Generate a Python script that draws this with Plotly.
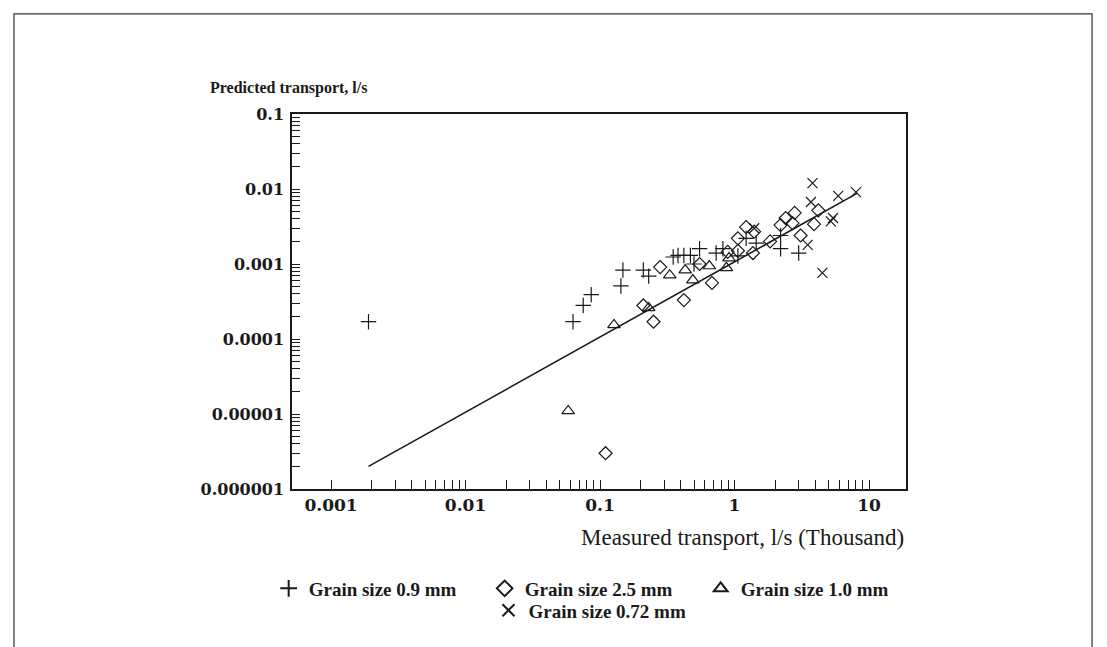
import plotly.graph_objects as go

# ---- data (measured transport in thousand l/s, predicted transport l/s) ----
g09_x = [0.0019, 0.063, 0.075, 0.086, 0.148, 0.143, 0.21, 0.23, 0.35, 0.38, 0.42, 0.47,
         0.55, 0.50, 0.73, 0.82, 1.06, 1.22, 1.45, 2.2, 2.2, 3.0]
g09_y = [0.00017, 0.00017, 0.00028, 0.00039, 0.00083, 0.00051, 0.00083, 0.00069, 0.00124,
         0.0013, 0.0013, 0.0013, 0.0016, 0.001, 0.0014, 0.0016, 0.00128, 0.0022, 0.0019,
         0.0024, 0.0016, 0.0014]

g25_x = [0.11, 0.21, 0.25, 0.28, 0.42, 0.68, 0.55, 0.89, 1.06, 1.06, 1.22, 1.4, 1.37,
         1.84, 2.2, 2.4, 2.8, 2.7, 3.1, 3.9, 4.2]
g25_y = [3.0e-6, 0.00028, 0.00017, 0.00091, 0.00033, 0.00056, 0.001, 0.00145, 0.0015,
         0.0022, 0.0031, 0.0027, 0.0014, 0.002, 0.0033, 0.0041, 0.0048, 0.0035, 0.0024,
         0.0034, 0.0052]

g10_x = [0.058, 0.127, 0.23, 0.33, 0.43, 0.49, 0.65, 0.87, 0.91]
g10_y = [1.1e-5, 0.000154, 0.00026, 0.00071, 0.00083, 0.00061, 0.00094, 0.00089, 0.0012]

g072_x = [1.4, 3.8, 3.7, 5.9, 8.0, 5.4, 5.2, 3.5, 4.5]
g072_y = [0.003, 0.012, 0.0067, 0.0081, 0.0091, 0.0041, 0.0037, 0.0018, 0.00076]

fit_x = [0.0019, 8.2]
fit_y = [2.0e-6, 0.0088]

x_tick_vals = [0.001, 0.01, 0.1, 1, 10]
x_tick_labels = ["0.001", "0.01", "0.1", "1", "10"]
y_tick_vals = [0.000001, 0.00001, 0.0001, 0.001, 0.01, 0.1]
y_tick_labels = ["0.000001", "0.00001", "0.0001", "0.001", "0.01", "0.1"]

# tick positions: labelled decades plus unlabelled 2..9 multiples
xv, xt = [], []
for m, lab in zip(x_tick_vals, x_tick_labels):
    xv.append(m); xt.append(lab)
    if m < 10:
        for k in range(2, 10):
            xv.append(m * k); xt.append("")
yv, yt = [], []
for m, lab in zip(y_tick_vals, y_tick_labels):
    yv.append(m); yt.append(lab)
    if m < 0.1:
        for k in range(2, 10):
            yv.append(m * k); yt.append("")

INK = "#1a1a1a"
SERIF = "Liberation Serif"
WIDE = "DejaVu Serif"

fig = go.Figure()

fig.add_trace(go.Scatter(x=fit_x, y=fit_y, mode="lines", line=dict(color=INK, width=1.6),
                         showlegend=False, hoverinfo="skip"))

mk = dict(color=INK, size=10, line=dict(color=INK, width=1.2))
fig.add_trace(go.Scatter(x=g09_x, y=g09_y, mode="markers", name="Grain size 0.9 mm",
                         marker=dict(mk, symbol="cross-thin-open", size=11), legend="legend"))
fig.add_trace(go.Scatter(x=g25_x, y=g25_y, mode="markers", name="Grain size 2.5 mm",
                         marker=dict(mk, symbol="diamond-open", size=10), legend="legend"))
fig.add_trace(go.Scatter(x=g10_x, y=g10_y, mode="markers", name="Grain size 1.0 mm",
                         marker=dict(mk, symbol="triangle-up-open", size=11), legend="legend"))
fig.add_trace(go.Scatter(x=g072_x, y=g072_y, mode="markers", name="Grain size 0.72 mm",
                         marker=dict(mk, symbol="x-thin-open", size=10), legend="legend2"))

fig.update_layout(
    width=1099, height=639,
    margin=dict(l=284, r=201, t=106, b=158),
    paper_bgcolor="white", plot_bgcolor="white",
    font=dict(family=SERIF, color=INK, size=16),
    xaxis=dict(type="log", range=[-3.29, 1.275], tickmode="array", tickvals=xv, ticktext=xt,
               ticks="inside", ticklen=9, tickwidth=1.2, tickcolor=INK,
               showline=True, linecolor=INK, linewidth=1.5, mirror=True, showgrid=False,
               zeroline=False, tickfont=dict(family=WIDE, size=17, weight="bold", color=INK)),
    yaxis=dict(type="log", range=[-6, -1], tickmode="array", tickvals=yv, ticktext=yt,
               ticks="inside", ticklen=8, tickwidth=1.2, tickcolor=INK, ticklabelstandoff=3,
               showline=True, linecolor=INK, linewidth=1.5, mirror=True, showgrid=False,
               zeroline=False, tickfont=dict(family=WIDE, size=16, weight="bold", color=INK)),
    legend=dict(orientation="h", x=-0.038, y=-0.2147, xanchor="left", yanchor="top",
                entrywidth=171, entrywidthmode="pixels", itemsizing="constant",
                font=dict(family=SERIF, size=19, weight="bold", color=INK),
                bgcolor="rgba(0,0,0,0)"),
    legend2=dict(orientation="h", x=0.320, y=-0.273, xanchor="left", yanchor="top",
                 itemsizing="constant",
                 font=dict(family=SERIF, size=19, weight="bold", color=INK),
                 bgcolor="rgba(0,0,0,0)"),
    annotations=[
        dict(text="Predicted transport, l/s", xref="paper", yref="paper",
             x=-0.137, y=1.07, xanchor="left", yanchor="middle", showarrow=False,
             font=dict(family=SERIF, size=16, weight="bold", color=INK)),
        dict(text="Measured transport, l/s (Thousand)", xref="paper", yref="paper",
             x=1.0, y=-0.13, xanchor="right", yanchor="middle", showarrow=False,
             font=dict(family=SERIF, size=23, color=INK)),
    ],
    shapes=[
        dict(type="rect", xref="paper", yref="paper", x0=-0.4528, x1=1.303, y0=-0.48, y1=1.267,
             line=dict(color="#333333", width=1.2), fillcolor="rgba(0,0,0,0)", layer="below"),
    ],
)

fig.write_html("out.html")
